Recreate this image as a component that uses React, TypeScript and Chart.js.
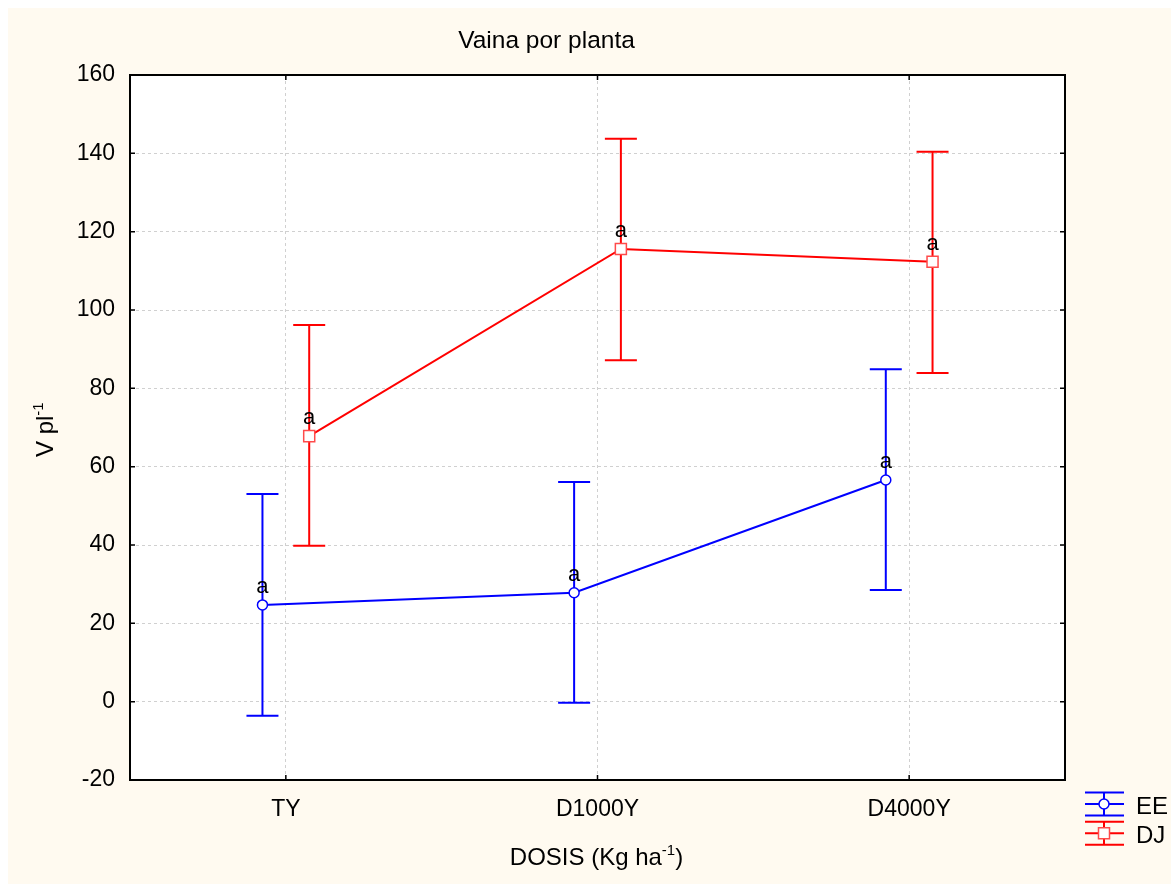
import React, { useEffect, useRef } from "react";
import { Chart, registerables } from "chart.js";

Chart.register(...registerables);

// Dose levels on the x axis
const categories = ["TY", "D1000Y", "D4000Y"];
const yTicks = [-20, 0, 20, 40, 60, 80, 100, 120, 140, 160];

// EE series: means with lower / upper error limits
const eeMean = [24.7, 27.8, 56.6];
const eeLow = [-3.6, -0.3, 28.5];
const eeHigh = [53.0, 56.1, 84.9];

// DJ series: means with lower / upper error limits
const djMean = [67.8, 115.6, 112.3];
const djLow = [39.8, 87.2, 83.9];
const djHigh = [96.2, 143.7, 140.4];

// Letter groupings printed above each mean
const eeLetters = ["a", "a", "a"];
const djLetters = ["a", "a", "a"];

const FONT = '"Liberation Sans", Arial, sans-serif';
const BLUE = "#0000ff";
const RED = "#ff0000";
const SHIFT = 0.075;
const LW = 2;

type Series = {
  mean: number[];
  low: number[];
  high: number[];
  letters: string[];
  color: string;
  shift: number;
};

const seriesList: Series[] = [
  { mean: eeMean, low: eeLow, high: eeHigh, letters: eeLetters, color: BLUE, shift: -SHIFT },
  { mean: djMean, low: djLow, high: djHigh, letters: djLetters, color: RED, shift: SHIFT },
];

function drawSupText(
  ctx: CanvasRenderingContext2D,
  parts: { t: string; sup?: boolean }[],
  x: number,
  y: number,
  size: number,
  align: "left" | "center"
) {
  const supSize = Math.round(size * 0.62);
  const widths = parts.map((p) => {
    ctx.font = `${p.sup ? supSize : size}px ${FONT}`;
    return ctx.measureText(p.t).width;
  });
  const total = widths.reduce((a, b) => a + b, 0);
  let cx = align === "center" ? x - total / 2 : x;
  ctx.textAlign = "left";
  ctx.textBaseline = "alphabetic";
  parts.forEach((p, i) => {
    ctx.font = `${p.sup ? supSize : size}px ${FONT}`;
    ctx.fillText(p.t, cx, p.sup ? y - size * 0.42 : y);
    cx += widths[i];
  });
}

const decorPlugin = {
  id: "decor",
  beforeDraw(chart: any) {
    const { ctx, chartArea: a } = chart;
    ctx.save();
    ctx.fillStyle = "#fffaf0";
    ctx.fillRect(0, 0, chart.width, chart.height);
    ctx.fillStyle = "#ffffff";
    ctx.fillRect(a.left, a.top, a.right - a.left, a.bottom - a.top);
    ctx.restore();
  },
  beforeDatasetsDraw(chart: any) {
    const { ctx, chartArea: a, scales } = chart;
    const xs = scales.x;
    const ys = scales.y;
    ctx.save();
    // frame
    ctx.strokeStyle = "#000";
    ctx.lineWidth = 2;
    ctx.strokeRect(a.left, a.top, a.right - a.left, a.bottom - a.top);
    // inward tick marks
    ctx.lineWidth = 1.5;
    ctx.beginPath();
    yTicks.forEach((v) => {
      const py = ys.getPixelForValue(v);
      ctx.moveTo(a.left, py);
      ctx.lineTo(a.left + 5, py);
      ctx.moveTo(a.right, py);
      ctx.lineTo(a.right - 5, py);
    });
    categories.forEach((_, i) => {
      const px = xs.getPixelForValue(i);
      ctx.moveTo(px, a.bottom);
      ctx.lineTo(px, a.bottom - 5);
      ctx.moveTo(px, a.top);
      ctx.lineTo(px, a.top + 5);
    });
    ctx.stroke();
    // error bars
    ctx.lineWidth = LW;
    seriesList.forEach((s) => {
      ctx.strokeStyle = s.color;
      ctx.beginPath();
      s.mean.forEach((_, i) => {
        const px = xs.getPixelForValue(i + s.shift);
        const top = ys.getPixelForValue(s.high[i]);
        const bot = ys.getPixelForValue(s.low[i]);
        ctx.moveTo(px, top);
        ctx.lineTo(px, bot);
        ctx.moveTo(px - 16, top);
        ctx.lineTo(px + 16, top);
        ctx.moveTo(px - 16, bot);
        ctx.lineTo(px + 16, bot);
      });
      ctx.stroke();
    });
    ctx.restore();
  },
  afterDatasetsDraw(chart: any) {
    const { ctx, scales } = chart;
    const xs = scales.x;
    const ys = scales.y;
    ctx.save();
    ctx.fillStyle = "#000";
    ctx.font = `22px ${FONT}`;
    ctx.textAlign = "center";
    ctx.textBaseline = "alphabetic";
    seriesList.forEach((s) => {
      s.mean.forEach((m, i) => {
        const px = xs.getPixelForValue(i + s.shift);
        const py = ys.getPixelForValue(m);
        ctx.fillText(s.letters[i], px, py - 12);
      });
    });

    // title
    ctx.font = `24.5px ${FONT}`;
    ctx.textAlign = "center";
    ctx.fillText("Vaina por planta", 538.5, 40);

    // x axis title
    drawSupText(
      ctx,
      [{ t: "DOSIS (Kg ha" }, { t: "-1", sup: true }, { t: ")" }],
      588.5,
      857,
      24,
      "center"
    );

    // y axis title
    ctx.save();
    ctx.translate(45, 449);
    ctx.rotate(-Math.PI / 2);
    drawSupText(ctx, [{ t: "V pl" }, { t: "-1", sup: true }], 0, 0, 24, "left");
    ctx.restore();

    // legend
    const legend = [
      { label: "EE", color: BLUE, mid: 796, kind: "circle" },
      { label: "DJ", color: RED, mid: 825.3, kind: "rect" },
    ];
    legend.forEach((it) => {
      const x0 = 1077;
      const x1 = 1116;
      const xc = 1096;
      ctx.strokeStyle = it.color;
      ctx.lineWidth = LW;
      ctx.beginPath();
      [-11.5, 0, 11.5].forEach((d) => {
        ctx.moveTo(x0, it.mid + d);
        ctx.lineTo(x1, it.mid + d);
      });
      ctx.moveTo(xc, it.mid - 11.5);
      ctx.lineTo(xc, it.mid + 11.5);
      ctx.stroke();
      ctx.fillStyle = "#fff";
      ctx.lineWidth = 1.5;
      ctx.beginPath();
      if (it.kind === "circle") {
        ctx.arc(xc, it.mid, 5, 0, Math.PI * 2);
      } else {
        ctx.rect(xc - 5.5, it.mid - 5.5, 11, 11);
        ctx.strokeStyle = "#ff4a4a";
      }
      ctx.fill();
      ctx.stroke();
      ctx.fillStyle = "#000";
      ctx.font = `24px ${FONT}`;
      ctx.textAlign = "left";
      ctx.fillText(it.label, 1128, it.mid + 9.5);
    });
    ctx.restore();
  },
};

export default function App() {
  const canvasRef = useRef<HTMLCanvasElement | null>(null);

  useEffect(() => {
    const canvas = canvasRef.current;
    if (!canvas) return;
    const chart = new Chart(canvas, {
      type: "line",
      data: {
        datasets: [
          {
            label: "EE",
            data: eeMean.map((v, i) => ({ x: i - SHIFT, y: v })),
            borderColor: BLUE,
            borderWidth: LW,
            pointStyle: "circle",
            pointRadius: 5,
            pointBorderWidth: 1.5,
            pointBackgroundColor: "#fff",
            pointBorderColor: BLUE,
            tension: 0,
          },
          {
            label: "DJ",
            data: djMean.map((v, i) => ({ x: i + SHIFT, y: v })),
            borderColor: RED,
            borderWidth: LW,
            pointStyle: "rect",
            pointRadius: 7.8,
            pointBorderWidth: 1.5,
            pointBackgroundColor: "#fff",
            pointBorderColor: "#ff4a4a",
            tension: 0,
          },
        ],
      },
      options: {
        animation: false,
        responsive: false,
        devicePixelRatio: 1,
        layout: { padding: { top: 67, right: 106, left: 0, bottom: 0 } },
        plugins: {
          legend: { display: false },
          title: { display: false },
          tooltip: { enabled: false },
        },
        scales: {
          x: {
            type: "linear",
            min: -0.5,
            max: 2.5,
            afterBuildTicks: (scale: any) => {
              scale.ticks = categories.map((_, i) => ({ value: i }));
            },
            afterFit: (scale: any) => {
              scale.height = 104;
            },
            ticks: {
              callback: (v: any) => categories[Math.round(Number(v))] ?? "",
              color: "#000",
              font: { family: FONT, size: 23 },
              padding: 16,
              maxRotation: 0,
              autoSkip: false,
            },
            grid: { color: "#d0d0d0", lineWidth: 1, drawTicks: false },
            border: { display: false, dash: [3, 3] },
          },
          y: {
            type: "linear",
            min: -20,
            max: 160,
            afterBuildTicks: (scale: any) => {
              scale.ticks = yTicks.map((v) => ({ value: v }));
            },
            afterFit: (scale: any) => {
              scale.width = 122;
            },
            ticks: {
              color: "#000",
              font: { family: FONT, size: 23 },
              padding: 15,
              autoSkip: false,
            },
            grid: { color: "#d0d0d0", lineWidth: 1, drawTicks: false },
            border: { display: false, dash: [3, 3] },
          },
        },
      },
      plugins: [decorPlugin],
    } as any);
    return () => chart.destroy();
  }, []);

  return (
    <div style={{ position: "fixed", left: 8, top: 8, width: 1163, height: 876 }}>
      <canvas ref={canvasRef} width={1163} height={876} style={{ display: "block", width: 1163, height: 876 }} />
    </div>
  );
}
